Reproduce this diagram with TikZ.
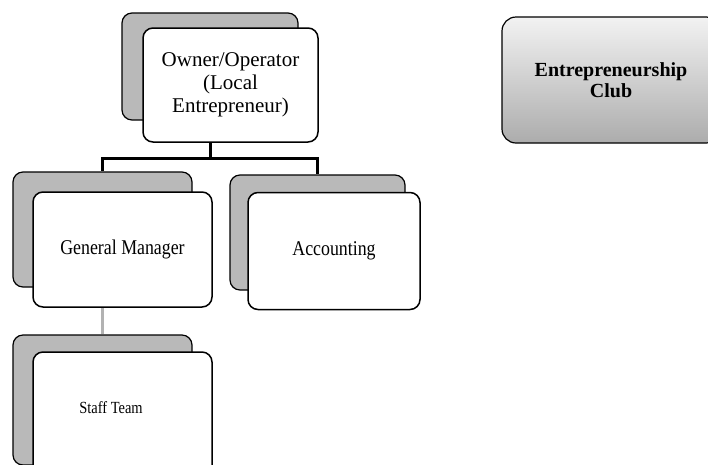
\documentclass[tikz,border=0pt]{standalone}
\usepackage{fontspec}
\setmainfont{Liberation Serif}
\newfontfamily\condfont[FakeStretch=0.85]{Liberation Serif}
\begin{document}
\begin{tikzpicture}[x=1pt,y=-1pt,
  shadowbox/.style={draw=black, line width=1.2pt, fill=gray!55, rounded corners=10pt, inner sep=0pt},
  frontbox/.style={draw=black, line width=1.5pt, fill=white, rounded corners=10pt, align=center, inner sep=0pt},
  clubbox/.style={draw=black, line width=1.2pt, rounded corners=14pt, shading=axis, top color=gray!10, middle color=gray!55, bottom color=gray!65, align=center, inner sep=0pt},
  conn/.style={line width=3pt, black},
  conngray/.style={line width=3pt, gray!60}]
\useasboundingbox (0,0) rectangle (708,464);
\clip (0,0) rectangle (708,464);
% shadows
\node[shadowbox, minimum width=176pt, minimum height=107pt] (ownS) at (210,66.5) {};
\node[shadowbox, minimum width=179pt, minimum height=115pt] (gmS) at (102.5,229.5) {};
\node[shadowbox, minimum width=175pt, minimum height=115pt] (acS) at (317.5,232.5) {};
\node[shadowbox, minimum width=179pt, minimum height=130pt] (stS) at (102.5,400) {};
% connectors
\coordinate (barY) at (0,158);
\draw[conn] (ownS.south) -- (ownS.south |- barY) -| (gmS.north);
\draw[conn] (ownS.south |- barY) -| (acS.north);
\draw[conngray] (gmS.south) -- (stS.north);
% front boxes
\node[frontbox, minimum width=175pt, minimum height=114pt, font=\fontsize{21}{23}\selectfont] (own) at (230.5,85) {Owner/Operator\\(Local\\Entrepreneur)};
\node[frontbox, minimum width=179pt, minimum height=115pt, font=\condfont\fontsize{21}{23}\selectfont] (gm) at (122.5,249.5) {General Manager};
\node[frontbox, minimum width=172pt, minimum height=117pt, font=\condfont\fontsize{21}{23}\selectfont] (ac) at (334,251) {Accounting};
\node[frontbox, minimum width=179pt, minimum height=140pt] (st) at (122.5,422) {};
\node[font=\condfont\fontsize{17}{19}\selectfont] (sttext) at (111,408) {Staff Team};
% club
\node[clubbox, minimum width=218pt, minimum height=126pt, font=\bfseries\fontsize{20}{21}\selectfont] (club) at (611,80) {Entrepreneurship\\Club};
\end{tikzpicture}
\end{document}
